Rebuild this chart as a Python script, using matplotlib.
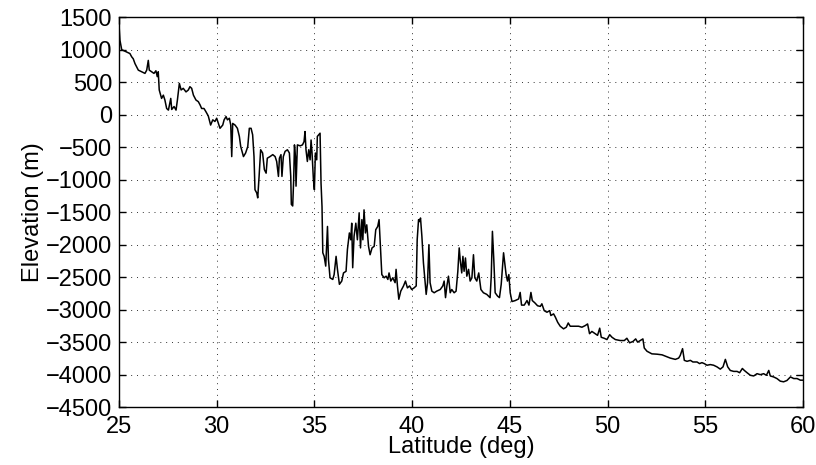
import matplotlib.pyplot as plt
import numpy as np

plt.rcParams['font.family'] = ['Liberation Sans', 'DejaVu Sans']

# elevation profile, (latitude deg, elevation m)
lat_north = [25.00, 25.05, 25.14, 25.39, 25.56, 25.65, 25.73, 25.82, 25.99, 26.16,
             26.33, 26.42, 26.50, 26.55, 26.67, 26.79, 26.89, 26.96, 27.01, 27.06,
             27.18, 27.27, 27.35, 27.44, 27.53, 27.65, 27.70, 27.82, 27.92, 27.99,
             28.09, 28.18, 28.29, 28.43, 28.55, 28.63, 28.72, 28.81, 28.94, 29.06,
             29.15, 29.23, 29.35, 29.45, 29.57, 29.69, 29.80, 29.91, 30.00, 30.09,
             30.17, 30.31, 30.38, 30.48, 30.55, 30.65, 30.72, 30.77, 30.82, 30.94,
             31.06, 31.16, 31.23, 31.37, 31.48, 31.59, 31.67, 31.76, 31.84, 31.91,
             31.96, 32.05, 32.10, 32.17, 32.25, 32.35, 32.44, 32.53, 32.59, 32.73,
             32.87, 32.99, 33.07, 33.16, 33.21, 33.29, 33.34, 33.41, 33.50, 33.62,
             33.72, 33.79, 33.82, 33.89, 33.94, 33.98, 34.03, 34.06, 34.13, 34.27,
             34.39, 34.47, 34.52, 34.57, 34.64, 34.71, 34.78, 34.83, 34.88, 34.95,
             35.00, 35.05, 35.12, 35.15, 35.22, 35.29]
elev_north = [1400, 1150, 1005, 970, 945, 895, 865, 790, 690, 665,
              640, 690, 840, 690, 665, 640, 680, 590, 665, 385,
              255, 305, 230, 100, 75, 255, 85, 130, 75, 230,
              485, 385, 410, 355, 385, 435, 410, 305, 230, 205,
              155, 100, 100, 50, -15, -155, -75, -100, -50, -130,
              -205, -155, -75, -25, -75, -50, -155, -640, -130, -155,
              -205, -330, -485, -640, -585, -485, -205, -205, -305, -640,
              -1150, -1200, -1275, -945, -535, -585, -840, -895, -665, -640,
              -610, -640, -715, -945, -665, -610, -945, -640, -560, -535,
              -585, -945, -1375, -1400, -995, -460, -640, -1095, -460, -475,
              -460, -410, -255, -535, -715, -535, -690, -385, -585, -995,
              -1150, -585, -690, -330, -305, -280]

lat_mid = [35.34, 35.39, 35.43, 35.50, 35.58, 35.67, 35.72, 35.80, 35.94, 36.01,
           36.11, 36.18, 36.28, 36.40, 36.49, 36.62, 36.69, 36.79, 36.86, 36.91,
           36.96, 37.03, 37.12, 37.20, 37.29, 37.36, 37.43, 37.48, 37.54, 37.61,
           37.68, 37.77, 37.85, 37.95, 38.06, 38.14, 38.24, 38.31, 38.40, 38.45,
           38.57, 38.67, 38.76, 38.82, 38.91, 39.01, 39.13, 39.18, 39.25, 39.32,
           39.42, 39.56, 39.66, 39.76, 39.87, 39.98, 40.10, 40.21, 40.26, 40.33,
           40.38, 40.43, 40.50, 40.58, 40.67, 40.72, 40.79, 40.86, 40.92, 41.01,
           41.13, 41.26, 41.44, 41.57, 41.64, 41.71, 41.78, 41.86, 41.95, 42.03,
           42.15, 42.25, 42.34, 42.41, 42.46, 42.54, 42.60, 42.66, 42.73, 42.80,
           42.89, 42.97, 43.06, 43.14, 43.21, 43.31, 43.41, 43.52, 43.65, 43.82,
           43.99, 44.05, 44.11, 44.18, 44.25, 44.37, 44.47, 44.56, 44.68, 44.75,
           44.81, 44.88, 44.95, 45.02]
elev_mid = [-1050, -1410, -2120, -2175, -2325, -1715, -2225, -2505, -2530, -2455,
            -2175, -2375, -2605, -2555, -2430, -2405, -2070, -1815, -1920, -1665,
            -2350, -1865, -1665, -1920, -1510, -2045, -1610, -1920, -1460, -1815,
            -1690, -2020, -2150, -2045, -2020, -1765, -1715, -1610, -2175, -2455,
            -2505, -2480, -2530, -2430, -2555, -2505, -2580, -2375, -2630, -2835,
            -2710, -2630, -2555, -2660, -2630, -2685, -2660, -2630, -1920, -1610,
            -1640, -1585, -1865, -2275, -2580, -2760, -2580, -1995, -2580, -2710,
            -2735, -2710, -2685, -2630, -2555, -2810, -2630, -2480, -2735, -2685,
            -2735, -2710, -2405, -2045, -2225, -2430, -2175, -2405, -2200, -2480,
            -2375, -2555, -2505, -2150, -2505, -2555, -2430, -2685, -2735, -2760,
            -2810, -2480, -1790, -2225, -2735, -2785, -2810, -2605, -2120, -2300,
            -2455, -2555, -2455, -2735]

lat_south = [45.11, 45.28, 45.45, 45.53, 45.60, 45.74, 45.88, 45.98, 46.08, 46.15,
             46.28, 46.42, 46.56, 46.64, 46.76, 46.90, 47.04, 47.10, 47.24, 47.33,
             47.45, 47.58, 47.75, 47.89, 47.99, 48.09, 48.26, 48.52, 48.69, 48.86,
             48.98, 49.08, 49.20, 49.37, 49.49, 49.60, 49.68, 49.83, 49.97, 50.11,
             50.23, 50.40, 50.65, 50.86, 50.99, 51.13, 51.30, 51.44, 51.54, 51.68,
             51.81, 51.88, 52.02, 52.27, 52.53, 52.79, 52.96, 53.21, 53.47, 53.64,
             53.72, 53.84, 53.93, 54.07, 54.24, 54.37, 54.58, 54.71, 54.83, 54.95,
             55.09, 55.26, 55.43, 55.60, 55.77, 55.91, 56.03, 56.15, 56.28, 56.46,
             56.63, 56.76, 56.90, 57.00, 57.14, 57.31, 57.48, 57.65, 57.82, 57.99,
             58.13, 58.25, 58.33, 58.50, 58.67, 58.84, 59.01, 59.18, 59.36, 59.53,
             59.70, 59.87, 60.00]
elev_south = [-2870, -2855, -2830, -2730, -2925, -2925, -2855, -2925, -2730, -2855,
              -2890, -2935, -2945, -2905, -3010, -3035, -3010, -3085, -3060, -3110,
              -3190, -3250, -3290, -3265, -3200, -3250, -3250, -3250, -3265, -3240,
              -3215, -3365, -3330, -3365, -3390, -3280, -3420, -3435, -3455, -3380,
              -3420, -3455, -3470, -3470, -3435, -3505, -3485, -3445, -3495, -3470,
              -3445, -3585, -3635, -3675, -3680, -3690, -3710, -3740, -3760, -3740,
              -3700, -3595, -3775, -3790, -3775, -3800, -3800, -3825, -3810, -3825,
              -3850, -3840, -3850, -3875, -3910, -3875, -3760, -3875, -3930, -3945,
              -3945, -3965, -3900, -3930, -3965, -4005, -4015, -3980, -3995, -3980,
              -4005, -3930, -4015, -4030, -4055, -4095, -4105, -4085, -4030, -4055,
              -4055, -4080, -4080]

lat = np.array(lat_north + lat_mid + lat_south)
elev = np.array(elev_north + elev_mid + elev_south)

fig = plt.figure(figsize=(8.16, 4.65), dpi=100)
ax = fig.add_axes([0.1458, 0.1237, 0.8382, 0.8387])
ax.plot(lat, elev, color='black', linewidth=1.1)

ax.set_xlim(25, 60)
ax.set_ylim(-4500, 1500)
ax.set_xticks(np.arange(25, 61, 5))
ax.set_yticks(np.arange(-4500, 1501, 500))
ax.grid(True, color='#333333', linestyle=(0, (1, 5)), linewidth=0.7)
ax.tick_params(direction='in', top=True, right=True, length=5, width=1, labelsize=17)
ax.tick_params(axis='x', pad=6)
ax.tick_params(axis='y', pad=5)
for s in ax.spines.values():
    s.set_linewidth(1.0)

ax.set_xlabel('Latitude (deg)', fontsize=17, labelpad=-1)
ax.set_ylabel('Elevation (m)', fontsize=17, labelpad=1)

fig.savefig('out.png', dpi=100)
